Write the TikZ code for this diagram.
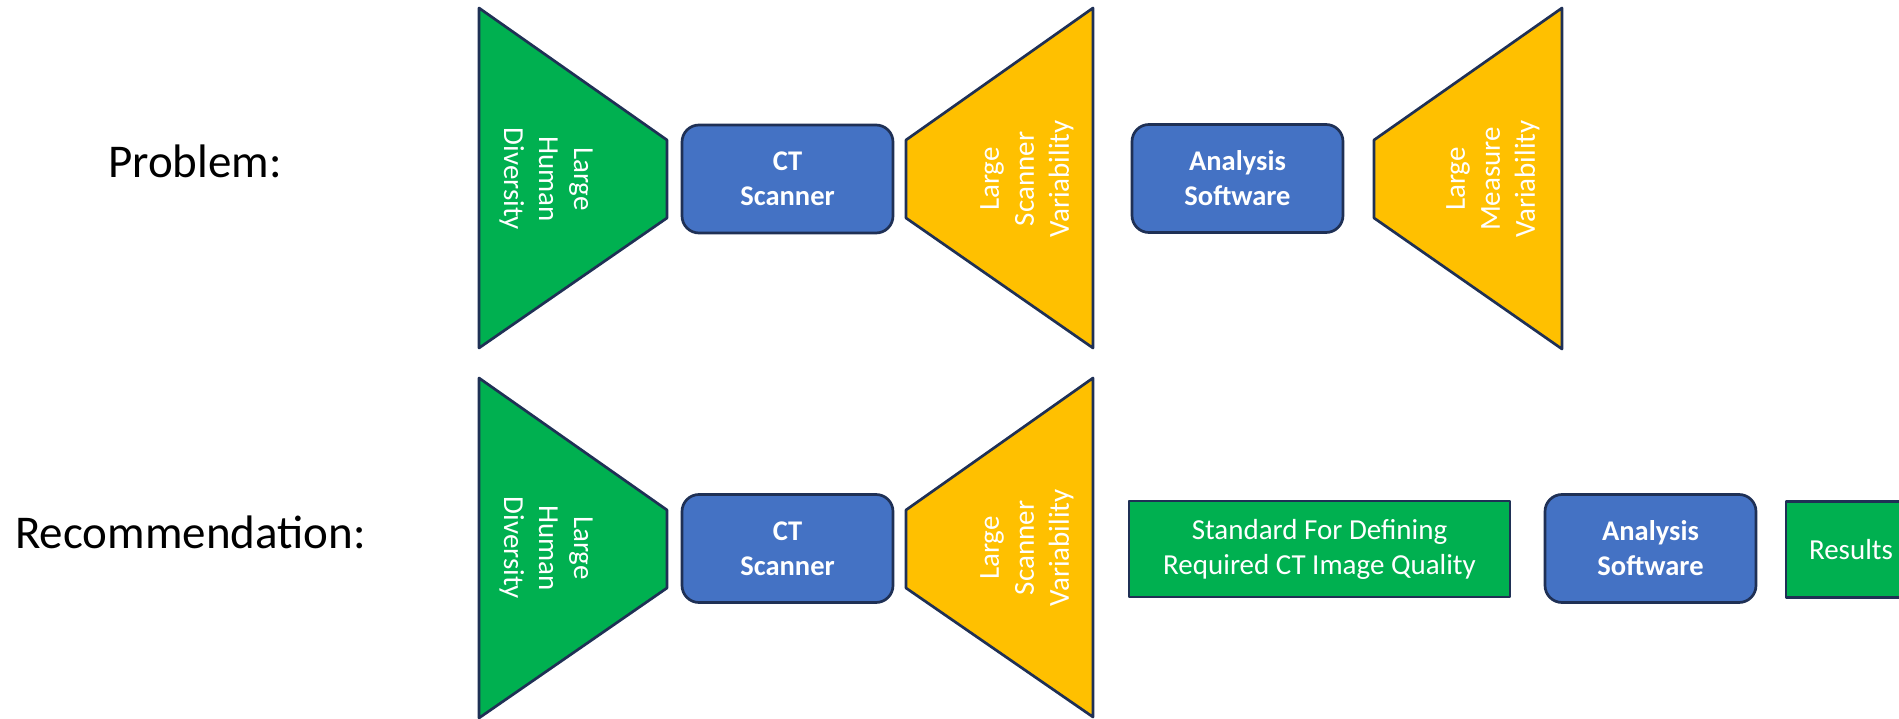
\documentclass[tikz,border=0pt]{standalone}
\usepackage{fontspec}
\setmainfont{Carlito}
\definecolor{navy}{HTML}{1F3055}
\definecolor{blueC}{HTML}{4472C4}
\definecolor{greenC}{HTML}{00B050}
\definecolor{goldC}{HTML}{FFC000}
\tikzset{
  outline/.style={draw=navy, line width=2.7pt, line join=round},
  boxtext/.style={text=white, align=center, inner sep=0pt, font=\fontsize{29}{35}\selectfont},
  bluebox/.style={outline, fill=blueC, rounded corners=17pt, boxtext, font=\bfseries\fontsize{28.5}{35}\selectfont, minimum width=211pt, minimum height=108pt},
  greenbox/.style={outline, fill=greenC, boxtext, minimum height=96pt},
  trapgreen/.style={outline, fill=greenC},
  trapgold/.style={outline, fill=goldC},
  traptext/.style={boxtext},
  rowlabel/.style={anchor=base west, inner sep=0pt, font=\fontsize{47}{56}\selectfont, text=black}
}
\begin{document}
\begin{tikzpicture}[x=1pt, y=-1pt]
\useasboundingbox (0,0) rectangle (1899,719);

% Row labels
\node[rowlabel] (lprob) at (108,178) {Problem:};
\node[rowlabel] (lrec) at (15,548) {Recommendation:};

% ---------- Top row ----------
\draw[trapgreen] (479,8) -- (667,140) -- (667,218) -- (479,348) -- cycle;
\node[traptext, rotate=-90] (hd1) at (546,179) {Large\\Human\\Diversity};

\node[bluebox] (ct1) at (787.5,179) {CT\\Scanner};

\draw[trapgold] (906,140) -- (1093,8) -- (1093,348) -- (906,218) -- cycle;
\node[traptext, rotate=90] (sv1) at (1027,179) {Large\\Scanner\\Variability};

\node[bluebox] (as1) at (1237.5,178.5) {Analysis\\Software};

\draw[trapgold] (1374,140) -- (1562,8) -- (1562,349) -- (1374,218) -- cycle;
\node[traptext, rotate=90] (mv1) at (1493,179) {Large\\Measure\\Variability};

% ---------- Bottom row ----------
\draw[trapgreen] (479,378) -- (667,510) -- (667,588) -- (479,718) -- cycle;
\node[traptext, rotate=-90] (hd2) at (546,548) {Large\\Human\\Diversity};

\node[bluebox] (ct2) at (787.5,548.5) {CT\\Scanner};

\draw[trapgold] (906,510) -- (1093,378) -- (1093,717) -- (906,588) -- cycle;
\node[traptext, rotate=90] (sv2) at (1027,548) {Large\\Scanner\\Variability};

\node[greenbox, minimum width=381pt] (std) at (1319.5,549) {Standard For Defining\\Required CT Image Quality};

\node[bluebox] (as2) at (1650.5,548.5) {Analysis\\Software};

\node[greenbox, minimum width=130pt] (res) at (1851,549.5) {Results};
\end{tikzpicture}
\end{document}
